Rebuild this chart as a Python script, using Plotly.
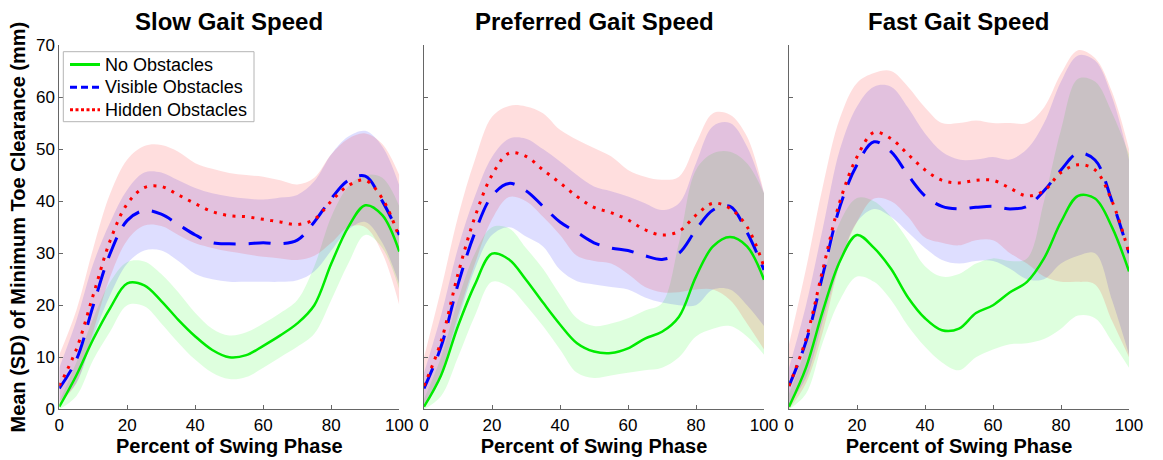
import plotly.graph_objects as go

# ---------------- data ----------------
pct = [0, 5, 10, 15, 20, 25, 30, 35, 40, 45, 50, 55, 60, 65, 70, 75, 80, 85, 90, 95, 100]
x_ticks = [0, 20, 40, 60, 80, 100]
y_ticks = [0, 10, 20, 30, 40, 50, 60, 70]
panel_titles = ["Slow Gait Speed", "Preferred Gait Speed", "Fast Gait Speed"]
series_names = ["No Obstacles", "Visible Obstacles", "Hidden Obstacles"]
x_title = "Percent of Swing Phase"
y_title = "Mean (SD) of Minimum Toe Clearance (mm)"

# Slow gait speed
slow_no_mean = [0.5, 6.5, 13.5, 19.5, 24.2, 23.8, 20.8, 17.2, 14, 11.4, 10, 10.4, 12.2, 14.2, 16.5, 20, 28, 35, 39.2, 37.3, 30.3]
slow_no_up = [1.5, 9, 17.5, 24.5, 28.3, 28.4, 26, 22.5, 18.5, 15.5, 14.2, 14.8, 16.5, 18.5, 21, 27.5, 37, 42.8, 45, 44.5, 39]
slow_no_lo = [0, 2.5, 9.5, 15, 20, 19.8, 16.5, 12.8, 9.5, 7, 5.8, 6.2, 8, 10, 12, 14.5, 21, 28, 33.5, 31, 23]
slow_vis_mean = [4, 9.5, 20, 30, 36.3, 38.2, 37.5, 35.5, 33.5, 32, 31.8, 31.8, 32, 31.8, 32.5, 36, 40.5, 44, 44.8, 40, 33.5]
slow_vis_up = [8, 17, 28, 36, 42.2, 45.5, 45.5, 44, 42.5, 41.5, 40.9, 40.5, 40.3, 40.7, 41.2, 43.8, 49, 52.4, 53.5, 50.5, 43]
slow_vis_lo = [1.5, 5, 14, 22, 28, 30.5, 30.5, 28.5, 26, 25, 24.5, 24.5, 24.5, 24.5, 24.8, 26.5, 30.5, 34.5, 36, 32, 24]
slow_hid_mean = [4.5, 11.5, 22, 32.5, 39.5, 42.6, 42.8, 41.2, 39.5, 38, 37.2, 37, 36.5, 36, 35.5, 36.5, 40, 43, 44, 40.5, 33]
slow_hid_up = [10.5, 19, 31, 41.5, 48, 50.6, 50.8, 49.5, 47.3, 46.2, 45.4, 45, 44.7, 44, 43.2, 44.5, 49, 52, 53, 51, 45]
slow_hid_lo = [1, 5, 15, 25.5, 32.5, 35.3, 35.2, 33.5, 31.9, 31, 30.3, 29.8, 29.3, 29, 28.7, 29.5, 32, 35, 35, 30, 20]

# Preferred gait speed
pref_no_mean = [0.5, 6.5, 16, 24, 29.9, 28.8, 24.9, 20.5, 16.3, 12.7, 11.1, 10.8, 11.7, 13.6, 14.9, 17.8, 25.5, 31.3, 33.1, 31.3, 24.9]
pref_no_up = [2, 10, 21, 30, 35, 34.8, 31, 27, 22, 17.5, 16, 16.5, 17.5, 19, 20.4, 32, 46, 49.2, 49.5, 47.3, 41.5]
pref_no_lo = [0, 2.5, 10, 18, 24.5, 23.5, 20, 16, 11.5, 7, 6, 6.5, 7, 7.5, 8, 10, 14, 15.5, 16, 14, 10.5]
pref_vis_mean = [4, 12, 24, 34, 41, 43.4, 42, 39, 36, 34, 32, 31, 30.5, 29.5, 28.8, 30, 34.5, 38.3, 39, 34, 26.8]
pref_vis_up = [7, 18, 31, 41, 48.5, 52, 52, 50, 47.6, 45, 42.8, 41.9, 40.9, 39.6, 38.3, 39.6, 47.3, 54.4, 55, 50.5, 41.5]
pref_vis_lo = [1, 6, 17, 27, 33.5, 35, 33.2, 31.3, 26.8, 24.6, 24, 23.5, 23, 21.5, 20.5, 20, 20, 23, 23, 20, 16]
pref_hid_mean = [4.5, 13, 26, 37, 45, 49.2, 48.6, 46, 43.5, 40.9, 38.8, 37.8, 36.4, 34.5, 33.5, 34.2, 37.3, 39.6, 38.6, 35.1, 27.4]
pref_hid_up = [10, 23, 37, 48, 56.2, 58.3, 58.2, 56.9, 53.7, 51.8, 50.2, 48.6, 46, 44.7, 44.1, 44.7, 51.1, 56.9, 56.6, 52.4, 41.5]
pref_hid_lo = [1, 7, 18, 28, 36.5, 40.8, 40, 37, 33.5, 29.5, 28.5, 28, 26, 23.5, 22.5, 22.5, 23, 23, 21, 16.5, 11.5]

# Fast gait speed
fast_no_mean = [0.5, 8, 19, 28.5, 33.5, 31, 27, 21.5, 17.5, 15.2, 15.5, 18.5, 20, 22.5, 24.5, 29, 36, 41, 40.5, 35, 26.5]
fast_no_up = [3, 12, 25, 36, 40.6, 40, 37, 32.5, 27.5, 25.5, 26, 28, 29, 28.5, 29, 40, 53.7, 63.5, 63, 57, 49]
fast_no_lo = [0, 3, 13, 21, 25.5, 24.5, 21, 16, 12, 9, 7.5, 10, 11.5, 12.5, 12.7, 13.5, 15.5, 18, 17.5, 13, 8]
fast_vis_mean = [4.5, 13, 26, 39, 47, 51.4, 49.5, 45, 41, 39, 38.5, 38.8, 39, 38.5, 39, 42, 46, 49.2, 47.9, 40, 30]
fast_vis_up = [8, 20, 35, 50, 58.2, 62, 62, 58, 53, 49.5, 48, 48, 48.5, 48, 50, 55, 63, 68, 67, 60, 48]
fast_vis_lo = [1, 6, 17, 28, 36, 38.5, 37, 34, 31, 28.7, 28, 28.5, 28.5, 27, 25, 25, 28, 29.5, 30, 21, 10.5]
fast_hid_mean = [4.5, 13.5, 27, 40, 48.5, 53.2, 52, 49, 46, 44, 43.5, 44, 44, 42.5, 41, 42, 45.5, 47, 46, 40, 30]
fast_hid_up = [12.5, 27, 43, 56, 62.7, 64.6, 65, 62, 58, 55, 55, 55.5, 55, 55, 55, 58, 64.5, 69, 67.5, 61, 50]
fast_hid_lo = [0, 5, 15, 28, 36, 40.5, 40, 37, 33, 32, 31.5, 32.5, 32.5, 30, 28, 25.5, 24.5, 24.5, 24, 17, 10]

panels = [
    [(slow_no_mean, slow_no_up, slow_no_lo), (slow_vis_mean, slow_vis_up, slow_vis_lo), (slow_hid_mean, slow_hid_up, slow_hid_lo)],
    [(pref_no_mean, pref_no_up, pref_no_lo), (pref_vis_mean, pref_vis_up, pref_vis_lo), (pref_hid_mean, pref_hid_up, pref_hid_lo)],
    [(fast_no_mean, fast_no_up, fast_no_lo), (fast_vis_mean, fast_vis_up, fast_vis_lo), (fast_hid_mean, fast_hid_up, fast_hid_lo)],
]

# ---------------- styles ----------------
W, H = 1163, 460
FONT = "Liberation Sans, Arial, Helvetica, sans-serif"
line_colors = ["rgb(0,235,0)", "rgb(0,0,255)", "rgb(255,0,0)"]
band_colors = ["rgba(0,255,0,0.13)", "rgba(0,0,255,0.13)", "rgba(255,0,0,0.13)"]
line_widths = [2.5, 3, 3]
line_dashes = ["solid", "22px,13px", "3px,6.5px"]
legend_dashes = ["solid", "7px,4px", "3px,2.5px"]

x_domains_px = [(59.3, 399.3), (424, 764), (789, 1129)]
y_bottom_px, y_top_px = 409.3, 45

fig = go.Figure()

for p, series in enumerate(panels):
    xa = "x" if p == 0 else f"x{p+1}"
    ya = "y" if p == 0 else f"y{p+1}"
    # SD bands
    for s, (m, up, lo) in enumerate(series):
        fig.add_trace(go.Scatter(x=pct, y=lo, mode="lines", line=dict(width=0, shape="spline"),
                                 xaxis=xa, yaxis=ya, showlegend=False, hoverinfo="skip"))
        fig.add_trace(go.Scatter(x=pct, y=up, mode="lines", line=dict(width=0, shape="spline"),
                                 fill="tonexty", fillcolor=band_colors[s],
                                 xaxis=xa, yaxis=ya, showlegend=False, hoverinfo="skip"))
    # mean lines
    for s, (m, up, lo) in enumerate(series):
        fig.add_trace(go.Scatter(x=pct, y=m, mode="lines", name=series_names[s],
                                 line=dict(color=line_colors[s], width=line_widths[s],
                                           dash=line_dashes[s], shape="spline"),
                                 xaxis=xa, yaxis=ya, showlegend=False))

layout = dict(
    width=W, height=H,
    margin=dict(l=0, r=0, t=0, b=0, pad=0),
    paper_bgcolor="white", plot_bgcolor="white",
    font=dict(family=FONT, size=17, color="black"),
    showlegend=False,
)

for p in range(3):
    sfx = "" if p == 0 else str(p + 1)
    x0, x1 = x_domains_px[p]
    layout["xaxis" + sfx] = dict(
        domain=[x0 / W, x1 / W], range=[0, 100], anchor="y" + sfx,
        tickvals=x_ticks, ticktext=[str(v) for v in x_ticks],
        ticks="inside", ticklen=4, tickcolor="#666", tickwidth=1,
        showline=True, linecolor="#666", linewidth=1, mirror=False,
        showgrid=False, zeroline=False, automargin=False,
        tickfont=dict(family=FONT, size=17, color="black"),
        title=dict(text=x_title, font=dict(family=FONT, size=20, color="black", weight="bold"), standoff=0),
    )
    layout["yaxis" + sfx] = dict(
        domain=[1 - y_bottom_px / H, 1 - y_top_px / H], range=[0, 70], anchor="x" + sfx,
        tickvals=y_ticks, ticktext=[str(v) for v in y_ticks], showticklabels=(p == 0),
        ticks="inside", ticklen=4, tickcolor="#666", tickwidth=1,
        showline=True, linecolor="#666", linewidth=1, mirror=False,
        showgrid=False, zeroline=False, automargin=False,
        tickfont=dict(family=FONT, size=17, color="black"),
        title=dict(text=y_title if p == 0 else "", font=dict(family=FONT, size=20, color="black", weight="bold"), standoff=4),
    )

annotations = []
for p in range(3):
    x0, x1 = x_domains_px[p]
    annotations.append(dict(text=panel_titles[p], x=(x0 + x1) / 2 / W, y=1 - 22 / H,
                            xref="paper", yref="paper", xanchor="center", yanchor="middle",
                            showarrow=False,
                            font=dict(family=FONT, size=24, color="black", weight="bold")))

# custom legend box (matches the compact MATLAB legend)
shapes = [dict(type="rect", xref="paper", yref="paper", layer="above",
               x0=63.3 / W, x1=254 / W, y0=1 - 121.7 / H, y1=1 - 51.7 / H,
               fillcolor="white", line=dict(color="#b4b4b4", width=1))]
legend_rows_px = [64.5, 87.3, 109.8]
for s in range(3):
    yy = 1 - legend_rows_px[s] / H
    shapes.append(dict(type="line", xref="paper", yref="paper", layer="above",
                       x0=70 / W, x1=100 / W, y0=yy, y1=yy,
                       line=dict(color=line_colors[s], width=3, dash=legend_dashes[s])))
    annotations.append(dict(text=series_names[s], x=103 / W, y=yy, xref="paper", yref="paper",
                            xanchor="left", yanchor="middle", showarrow=False,
                            font=dict(family=FONT, size=18, color="black")))

layout["annotations"] = annotations
layout["shapes"] = shapes

fig.update_layout(**layout)
fig.write_html("out.html")
